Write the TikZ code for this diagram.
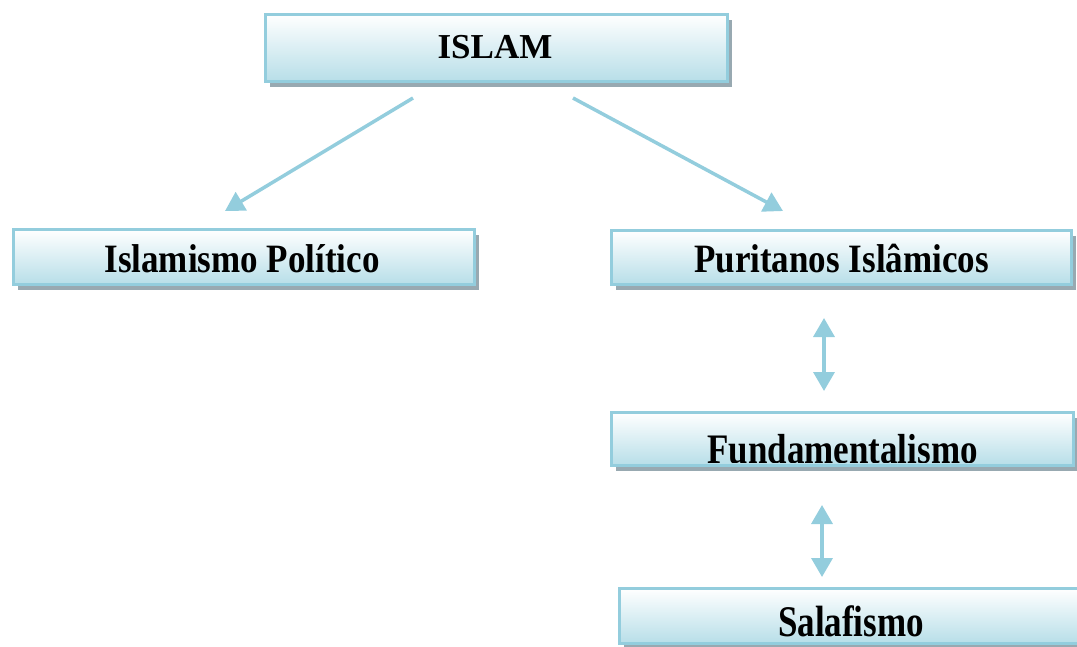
\documentclass[tikz,border=0pt]{standalone}
\usepackage{fontspec}
\usepackage{graphicx}
\setmainfont{Liberation Serif}
\usetikzlibrary{shadows,arrows.meta}
\definecolor{edgeblue}{HTML}{93CDDD}
\definecolor{fillblue}{HTML}{B7DEE8}
\definecolor{shadowgray}{HTML}{98A9B1}
\begin{document}
\begin{tikzpicture}[x=1pt,y=-1pt,
  box/.style={draw=edgeblue, line width=3pt, top color=white, bottom color=fillblue,
    drop shadow={shadow xshift=4pt, shadow yshift=-5pt, fill=shadowgray, opacity=1},
    inner sep=0pt},
  lbl/.style={font=\fontsize{35}{40}\bfseries\selectfont, inner sep=0pt, anchor=base},
  link/.style={draw=edgeblue, line width=3.5pt, -{Triangle[length=19pt,width=21pt]}},
  pair/.style={draw=edgeblue, line width=3.5pt,
    {Triangle[length=19pt,width=21pt]}-{Triangle[length=19pt,width=21pt]}}]
\useasboundingbox (0,0) rectangle (1077,646);

% boxes
\node[box, minimum width=462pt, minimum height=67pt] (islam) at (496.5,48) {};
\node[box, minimum width=461pt, minimum height=55pt] (pol) at (244,257) {};
\node[box, minimum width=460pt, minimum height=54pt] (pur) at (841.5,257.5) {};
\node[box, minimum width=462pt, minimum height=53pt] (fund) at (842.5,439) {};
\node[box, minimum width=463pt, minimum height=55pt] (sala) at (851,616) {};

% labels
\node[lbl] (islamtxt) at (495,58) {ISLAM};
\node[lbl] (poltxt) at (242,272) {\scalebox{1}[1.15]{Islamismo Político}};
\node[lbl] (purtxt) at (841.5,272) {\scalebox{1}[1.15]{Puritanos Islâmicos}};
\begin{scope}
  \clip (612,412) rectangle (1074,462);
  \node[lbl] (fundtxt) at (842.5,463.5) {\scalebox{1}[1.2]{Fundamentalismo}};
\end{scope}
\node[lbl] (salatxt) at (851,636) {\scalebox{1}[1.25]{Salafismo}};

% connectors
\coordinate (s1) at (413,98);
\coordinate (e1) at (225,211);
\coordinate (s2) at (573,98);
\coordinate (e2) at (783,211);
\draw[link] (s1) -- (e1);
\draw[link] (s2) -- (e2);
\coordinate (p1a) at (824,318);
\coordinate (p1b) at (824,391);
\coordinate (p2a) at (822,505);
\coordinate (p2b) at (822,577);
\draw[pair] (p1a) -- (p1b);
\draw[pair] (p2a) -- (p2b);
\end{tikzpicture}
\end{document}
